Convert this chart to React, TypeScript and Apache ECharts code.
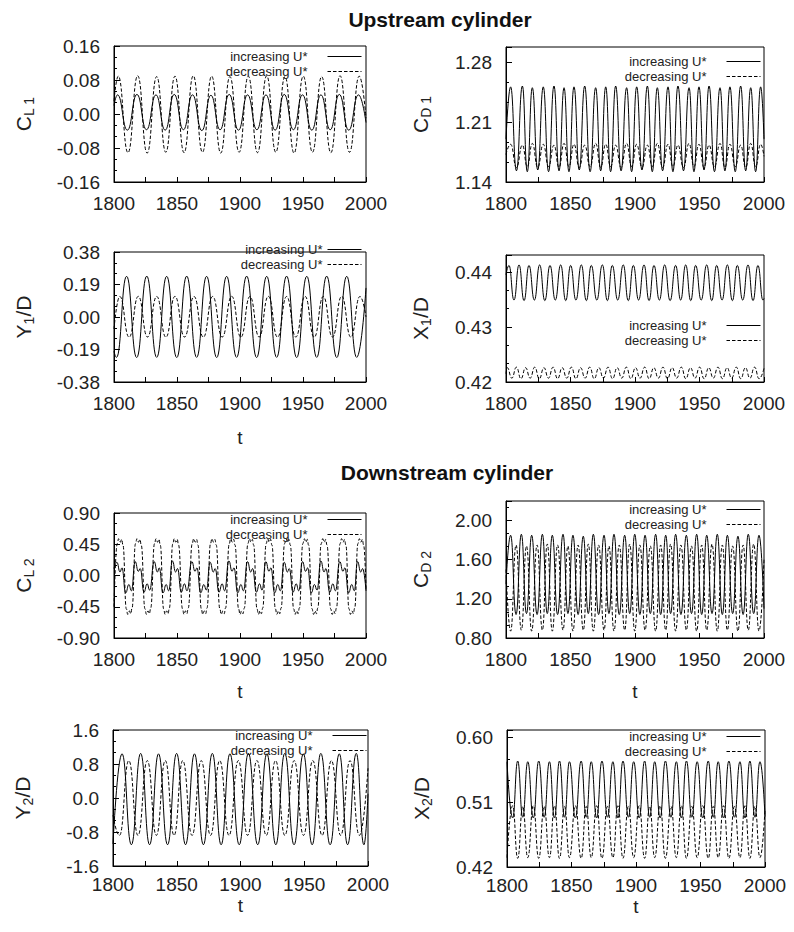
import React, { useEffect, useRef } from 'react';
import * as echarts from 'echarts';

const FONT = "'Liberation Sans', Arial, Helvetica, sans-serif";
const SERIES_NAMES = ['increasing U*', 'decreasing U*'];
const T_MIN = 1800;
const T_MAX = 2000;

// ---- Upstream: lift coefficient C_L1 ----
const cl1Inc = [
  [1800, 0.02], [1802.8, 0.045], [1810.6, -0.038], [1818.2, 0.046], [1825.8, -0.037], [1833.3, 0.045],
  [1840.6, -0.038], [1847.8, 0.046], [1855.1, -0.037], [1862.3, 0.045], [1869.7, -0.039], [1876.9, 0.044],
  [1884.2, -0.037], [1891.4, 0.046], [1898.8, -0.038], [1906.0, 0.045], [1913.4, -0.037], [1920.6, 0.045],
  [1927.9, -0.038], [1935.1, 0.046], [1942.4, -0.037], [1949.6, 0.045], [1957.0, -0.038], [1964.2, 0.045],
  [1971.6, -0.037], [1978.8, 0.046], [1986.3, -0.038], [1994.0, 0.045], [2000, -0.02],
];
const cl1Dec = [
  [1800, 0.03], [1803.4, 0.089], [1811.1, -0.091], [1818.8, 0.09], [1826.3, -0.092], [1833.9, 0.088],
  [1841.1, -0.09], [1848.4, 0.089], [1855.6, -0.091], [1862.9, 0.09], [1870.2, -0.09], [1877.5, 0.089],
  [1884.7, -0.092], [1892.0, 0.088], [1899.3, -0.09], [1906.6, 0.089], [1913.9, -0.091], [1921.2, 0.09],
  [1928.4, -0.09], [1935.7, 0.088], [1942.9, -0.092], [1950.2, 0.089], [1957.5, -0.09], [1964.8, 0.088],
  [1972.1, -0.091], [1979.4, 0.09], [1986.9, -0.09], [1994.6, 0.089], [2000, -0.01],
];

// ---- Upstream: drag coefficient C_D1 ----
const cd1Inc = [
  [1800, 1.19], [1803.6, 1.251], [1808.1, 1.153], [1812.7, 1.252], [1816.5, 1.152], [1820.4, 1.25],
  [1824.6, 1.154], [1828.9, 1.251], [1833.0, 1.152], [1837.2, 1.252], [1841.1, 1.153], [1845.0, 1.25],
  [1848.8, 1.152], [1852.7, 1.251], [1856.8, 1.154], [1861.0, 1.252], [1865.2, 1.152], [1869.5, 1.25],
  [1873.4, 1.153], [1877.3, 1.251], [1881.1, 1.152], [1885.0, 1.252], [1889.2, 1.153], [1893.5, 1.25],
  [1897.4, 1.152], [1901.3, 1.251], [1905.4, 1.154], [1909.6, 1.252], [1913.4, 1.152], [1917.3, 1.25],
  [1921.4, 1.153], [1925.6, 1.251], [1929.4, 1.152], [1933.3, 1.252], [1937.6, 1.153], [1941.9, 1.25],
  [1945.7, 1.152], [1949.6, 1.251], [1953.5, 1.154], [1957.4, 1.252], [1961.6, 1.152], [1965.9, 1.25],
  [1969.7, 1.153], [1973.6, 1.251], [1977.7, 1.152], [1981.9, 1.252], [1985.8, 1.153], [1989.7, 1.25],
  [1993.5, 1.152], [1997.4, 1.251], [2000, 1.19],
];
const cd1Dec = [
  [1800, 1.172], [1803.6, 1.184], [1808.1, 1.157], [1812.7, 1.183], [1816.5, 1.158], [1820.4, 1.185],
  [1824.6, 1.157], [1828.9, 1.184], [1833.0, 1.158], [1837.2, 1.183], [1841.1, 1.157], [1845.0, 1.185],
  [1848.8, 1.158], [1852.7, 1.184], [1856.8, 1.157], [1861.0, 1.183], [1865.2, 1.158], [1869.5, 1.185],
  [1873.4, 1.157], [1877.3, 1.184], [1881.1, 1.158], [1885.0, 1.183], [1889.2, 1.157], [1893.5, 1.185],
  [1897.4, 1.158], [1901.3, 1.184], [1905.4, 1.157], [1909.6, 1.183], [1913.4, 1.158], [1917.3, 1.185],
  [1921.4, 1.157], [1925.6, 1.184], [1929.4, 1.158], [1933.3, 1.183], [1937.6, 1.157], [1941.9, 1.185],
  [1945.7, 1.158], [1949.6, 1.184], [1953.5, 1.157], [1957.4, 1.183], [1961.6, 1.158], [1965.9, 1.185],
  [1969.7, 1.157], [1973.6, 1.184], [1977.7, 1.158], [1981.9, 1.183], [1985.8, 1.157], [1989.7, 1.185],
  [1993.5, 1.158], [1997.4, 1.184], [2000, 1.17],
];

// ---- Upstream: transverse displacement Y1/D ----
const y1Inc = [
  [1800, -0.2], [1802.0, -0.236], [1810.0, 0.238], [1818.0, -0.237], [1826.0, 0.239], [1833.9, -0.236],
  [1841.8, 0.238], [1849.8, -0.237], [1857.7, 0.239], [1865.6, -0.236], [1873.5, 0.238], [1881.5, -0.237],
  [1889.4, 0.238], [1897.3, -0.236], [1905.3, 0.239], [1913.2, -0.237], [1921.2, 0.238], [1929.1, -0.236],
  [1937.0, 0.239], [1945.0, -0.237], [1953.0, 0.238], [1960.9, -0.236], [1968.8, 0.239], [1976.8, -0.237],
  [1984.7, 0.238], [1992.6, -0.236], [2000, 0.17],
];
const y1Dec = [
  [1800, -0.07], [1804.6, 0.12], [1812.0, -0.118], [1819.3, 0.121], [1826.6, -0.117], [1833.9, 0.12],
  [1841.2, -0.118], [1848.4, 0.121], [1856.0, -0.117], [1863.5, 0.12], [1870.9, -0.118], [1878.3, 0.12],
  [1885.9, -0.117], [1893.4, 0.121], [1900.7, -0.118], [1907.9, 0.12], [1915.2, -0.117], [1922.5, 0.121],
  [1929.8, -0.118], [1937.0, 0.12], [1944.3, -0.117], [1951.6, 0.121], [1958.9, -0.118], [1966.1, 0.12],
  [1973.4, -0.117], [1980.7, 0.121], [1988.0, -0.118], [1995.2, 0.12], [2000, 0.0],
];

// ---- Upstream: streamwise displacement X1/D ----
const x1Inc = [
  [1800, 0.4395], [1802.3, 0.4412], [1806.2, 0.4349], [1810.1, 0.4413], [1814.0, 0.4348], [1817.8, 0.4412],
  [1822.0, 0.4349], [1826.1, 0.4413], [1830.1, 0.4348], [1834.1, 0.4412], [1838.2, 0.4349], [1842.4, 0.4413],
  [1846.3, 0.4348], [1850.1, 0.4412], [1854.2, 0.4349], [1858.4, 0.4413], [1862.3, 0.4348], [1866.1, 0.4412],
  [1870.4, 0.4349], [1874.7, 0.4413], [1878.6, 0.4348], [1882.4, 0.4412], [1886.6, 0.4349], [1890.9, 0.4413],
  [1894.8, 0.4348], [1898.7, 0.4412], [1902.8, 0.4349], [1907.0, 0.4413], [1910.9, 0.4348], [1914.7, 0.4412],
  [1918.9, 0.4349], [1923.0, 0.4413], [1927.2, 0.4348], [1931.5, 0.4412], [1935.4, 0.4349], [1939.3, 0.4413],
  [1943.2, 0.4348], [1947.0, 0.4412], [1951.3, 0.4349], [1955.6, 0.4413], [1959.5, 0.4348], [1963.3, 0.4412],
  [1967.5, 0.4349], [1971.6, 0.4413], [1975.5, 0.4348], [1979.3, 0.4412], [1983.5, 0.4349], [1987.6, 0.4413],
  [1991.5, 0.4348], [1995.3, 0.4412], [1999.2, 0.4349], [2000, 0.4352],
];
const x1Dec = [
  [1800, 0.4215], [1801.0, 0.4226], [1804.5, 0.4207], [1808.1, 0.4227], [1811.6, 0.4206], [1815.2, 0.4226],
  [1818.7, 0.4207], [1822.3, 0.4227], [1825.8, 0.4206], [1829.4, 0.4226], [1832.9, 0.4207], [1836.5, 0.4227],
  [1840.0, 0.4206], [1843.6, 0.4226], [1847.1, 0.4207], [1850.7, 0.4227], [1854.2, 0.4206], [1857.8, 0.4226],
  [1861.3, 0.4207], [1864.9, 0.4227], [1868.4, 0.4206], [1872.0, 0.4226], [1875.5, 0.4207], [1879.1, 0.4227],
  [1882.6, 0.4206], [1886.2, 0.4226], [1889.7, 0.4207], [1893.3, 0.4227], [1896.8, 0.4206], [1900.4, 0.4226],
  [1903.9, 0.4207], [1907.5, 0.4227], [1911.0, 0.4206], [1914.6, 0.4226], [1918.1, 0.4207], [1921.7, 0.4227],
  [1925.2, 0.4206], [1928.8, 0.4226], [1932.3, 0.4207], [1935.9, 0.4227], [1939.4, 0.4206], [1943.0, 0.4226],
  [1946.5, 0.4207], [1950.1, 0.4227], [1953.6, 0.4206], [1957.2, 0.4226], [1960.7, 0.4207], [1964.3, 0.4227],
  [1967.8, 0.4206], [1971.4, 0.4226], [1974.9, 0.4207], [1978.5, 0.4227], [1982.0, 0.4206], [1985.6, 0.4226],
  [1989.1, 0.4207], [1992.7, 0.4227], [1996.2, 0.4206], [2000, 0.4225],
];

// ---- Downstream: lift coefficient C_L2 ----
const cl2Inc = [
  [1800, 0.1],
  [1802.3, 0.19], [1804.8, 0.05], [1806.3, 0.11], [1809.3, -0.25], [1811.8, -0.13], [1813.8, -0.22],
  [1816.8, 0.2], [1819.3, 0.06], [1820.8, 0.1], [1823.8, -0.24], [1826.3, -0.12], [1828.3, -0.21],
  [1831.9, 0.2], [1834.4, 0.05], [1835.9, 0.11], [1838.9, -0.25], [1841.4, -0.13], [1843.4, -0.22],
  [1846.4, 0.21], [1848.9, 0.05], [1850.4, 0.1], [1853.4, -0.24], [1855.9, -0.12], [1857.9, -0.22],
  [1861.8, 0.2], [1864.3, 0.06], [1865.8, 0.11], [1868.8, -0.25], [1871.3, -0.13], [1873.3, -0.21],
  [1876.3, 0.19], [1878.8, 0.05], [1880.3, 0.1], [1883.3, -0.24], [1885.8, -0.12], [1887.8, -0.22],
  [1891.2, 0.21], [1893.7, 0.06], [1895.2, 0.11], [1898.2, -0.25], [1900.7, -0.13], [1902.7, -0.22],
  [1906.0, 0.2], [1908.5, 0.05], [1910.0, 0.1], [1913.0, -0.24], [1915.5, -0.12], [1917.5, -0.21],
  [1920.5, 0.2], [1923.0, 0.06], [1924.5, 0.11], [1927.5, -0.25], [1930.0, -0.13], [1932.0, -0.22],
  [1935.1, 0.19], [1937.6, 0.05], [1939.1, 0.1], [1942.1, -0.24], [1944.6, -0.12], [1946.6, -0.22],
  [1949.6, 0.2], [1952.1, 0.06], [1953.6, 0.11], [1956.6, -0.25], [1959.1, -0.13], [1961.1, -0.21],
  [1964.2, 0.21], [1966.7, 0.05], [1968.2, 0.1], [1971.2, -0.24], [1973.7, -0.12], [1975.7, -0.22],
  [1979.2, 0.2], [1981.7, 0.06], [1983.2, 0.11], [1986.2, -0.25], [1988.7, -0.13], [1990.7, -0.22],
  [1993.3, 0.2], [1995.8, 0.05], [1997.3, 0.1], [2000, -0.22],
];
const cl2Dec = [
  [1800, -0.45],
  [1802.6, 0.46], [1803.7, 0.53], [1805.0, 0.48], [1806.1, 0.52], [1807.1, 0.44],
  [1809.8, -0.48], [1810.9, -0.56], [1812.2, -0.51], [1813.3, -0.55], [1814.3, -0.47],
  [1817.1, 0.46], [1818.2, 0.53], [1819.5, 0.48], [1820.6, 0.52], [1821.6, 0.44],
  [1824.6, -0.48], [1825.7, -0.56], [1827.0, -0.51], [1828.1, -0.55], [1829.1, -0.47],
  [1832.2, 0.46], [1833.3, 0.53], [1834.6, 0.48], [1835.7, 0.52], [1836.7, 0.44],
  [1839.4, -0.48], [1840.5, -0.56], [1841.8, -0.51], [1842.9, -0.55], [1843.9, -0.47],
  [1846.7, 0.46], [1847.8, 0.53], [1849.1, 0.48], [1850.2, 0.52], [1851.2, 0.44],
  [1854.4, -0.48], [1855.5, -0.56], [1856.8, -0.51], [1857.9, -0.55], [1858.9, -0.47],
  [1862.1, 0.46], [1863.2, 0.53], [1864.5, 0.48], [1865.6, 0.52], [1866.6, 0.44],
  [1869.3, -0.48], [1870.4, -0.56], [1871.7, -0.51], [1872.8, -0.55], [1873.8, -0.47],
  [1876.6, 0.46], [1877.7, 0.53], [1879.0, 0.48], [1880.1, 0.52], [1881.1, 0.44],
  [1884.0, -0.48], [1885.1, -0.56], [1886.4, -0.51], [1887.5, -0.55], [1888.5, -0.47],
  [1891.5, 0.46], [1892.6, 0.53], [1893.9, 0.48], [1895.0, 0.52], [1896.0, 0.44],
  [1898.9, -0.48], [1900.0, -0.56], [1901.3, -0.51], [1902.4, -0.55], [1903.4, -0.47],
  [1906.3, 0.46], [1907.4, 0.53], [1908.7, 0.48], [1909.8, 0.52], [1910.8, 0.44],
  [1913.5, -0.48], [1914.6, -0.56], [1915.9, -0.51], [1917.0, -0.55], [1918.0, -0.47],
  [1920.8, 0.46], [1921.9, 0.53], [1923.2, 0.48], [1924.3, 0.52], [1925.3, 0.44],
  [1928.1, -0.48], [1929.2, -0.56], [1930.5, -0.51], [1931.6, -0.55], [1932.6, -0.47],
  [1935.4, 0.46], [1936.5, 0.53], [1937.8, 0.48], [1938.9, 0.52], [1939.9, 0.44],
  [1942.6, -0.48], [1943.7, -0.56], [1945.0, -0.51], [1946.1, -0.55], [1947.1, -0.47],
  [1949.9, 0.46], [1951.0, 0.53], [1952.3, 0.48], [1953.4, 0.52], [1954.4, 0.44],
  [1957.2, -0.48], [1958.3, -0.56], [1959.6, -0.51], [1960.7, -0.55], [1961.7, -0.47],
  [1964.5, 0.46], [1965.6, 0.53], [1966.9, 0.48], [1968.0, 0.52], [1969.0, 0.44],
  [1972.0, -0.48], [1973.1, -0.56], [1974.4, -0.51], [1975.5, -0.55], [1976.5, -0.47],
  [1979.5, 0.46], [1980.6, 0.53], [1981.9, 0.48], [1983.0, 0.52], [1984.0, 0.44],
  [1986.5, -0.48], [1987.6, -0.56], [1988.9, -0.51], [1990.0, -0.55], [1991.0, -0.47],
  [1993.6, 0.46], [1994.7, 0.53], [1996.0, 0.48], [1997.1, 0.52], [1998.1, 0.44],
  [2000, -0.2],
];

// ---- Downstream: drag coefficient C_D2 ----
const cd2Inc = [
  [1800, 1.35], [1803.6, 1.85], [1807.8, 1.04], [1811.9, 1.86], [1815.9, 1.05], [1819.9, 1.85],
  [1824.1, 1.04], [1828.2, 1.86], [1832.0, 1.05], [1835.9, 1.85], [1840.0, 1.04], [1844.2, 1.86],
  [1848.0, 1.05], [1851.9, 1.85], [1855.9, 1.04], [1859.9, 1.84], [1863.8, 1.05], [1867.7, 1.86],
  [1871.8, 1.04], [1876.0, 1.85], [1879.8, 1.05], [1883.7, 1.86], [1887.8, 1.04], [1892.0, 1.85],
  [1895.9, 1.05], [1899.8, 1.86], [1903.8, 1.04], [1907.8, 1.85], [1911.9, 1.05], [1916.0, 1.86],
  [1919.9, 1.04], [1923.8, 1.85], [1927.6, 1.05], [1931.5, 1.86], [1935.6, 1.04], [1939.8, 1.85],
  [1943.8, 1.05], [1947.8, 1.86], [1951.7, 1.04], [1955.6, 1.85], [1959.7, 1.05], [1963.8, 1.86],
  [1967.7, 1.04], [1971.6, 1.85], [1975.7, 1.05], [1979.8, 1.84], [1983.8, 1.04], [1987.8, 1.86],
  [1992.0, 1.05], [1996.1, 1.85], [2000, 1.1],
];
const cd2Dec = [
  [1800, 1.5], [1803.6, 0.87], [1807.8, 1.75], [1811.9, 0.88], [1815.9, 1.74], [1819.9, 0.87],
  [1824.1, 1.75], [1828.2, 0.88], [1832.0, 1.76], [1835.9, 0.87], [1840.0, 1.75], [1844.2, 0.88],
  [1848.0, 1.74], [1851.9, 0.87], [1855.9, 1.75], [1859.9, 0.88], [1863.8, 1.76], [1867.7, 0.87],
  [1871.8, 1.75], [1876.0, 0.88], [1879.8, 1.74], [1883.7, 0.87], [1887.8, 1.75], [1892.0, 0.88],
  [1895.9, 1.76], [1899.8, 0.87], [1903.8, 1.75], [1907.8, 0.88], [1911.9, 1.74], [1916.0, 0.87],
  [1919.9, 1.75], [1923.8, 0.88], [1927.6, 1.76], [1931.5, 0.87], [1935.6, 1.75], [1939.8, 0.88],
  [1943.8, 1.74], [1947.8, 0.87], [1951.7, 1.75], [1955.6, 0.88], [1959.7, 1.76], [1963.8, 0.87],
  [1967.7, 1.75], [1971.6, 0.88], [1975.7, 1.74], [1979.8, 0.87], [1983.8, 1.75], [1987.8, 0.88],
  [1992.0, 1.76], [1996.1, 0.87], [2000, 1.6],
];

// ---- Downstream: transverse displacement Y2/D ----
const y2Inc = [
  [1800, -1.08], [1807.1, 1.04], [1814.4, -1.1], [1821.7, 1.05], [1828.7, -1.1], [1835.7, 1.04],
  [1842.8, -1.1], [1849.9, 1.05], [1856.9, -1.1], [1863.9, 1.04], [1870.9, -1.1], [1877.9, 1.05],
  [1884.8, -1.1], [1891.7, 1.04], [1899.0, -1.1], [1906.2, 1.05], [1913.5, -1.1], [1920.7, 1.04],
  [1927.7, -1.1], [1934.7, 1.05], [1942.0, -1.1], [1949.3, 1.04], [1956.2, -1.1], [1963.0, 1.05],
  [1970.3, -1.1], [1977.5, 1.04], [1984.0, -1.1], [1990.8, 1.05], [1996.8, -1.1], [2000, 0.1],
];
const y2Dec = [
  [1800, -0.4], [1805.1, -0.88], [1812.4, 0.88], [1819.6, -0.88], [1826.9, 0.88], [1834.0, -0.88],
  [1841.0, 0.88], [1847.9, -0.88], [1854.7, 0.88], [1862.0, -0.88], [1869.2, 0.88], [1876.5, -0.88],
  [1883.7, 0.88], [1891.0, -0.88], [1898.3, 0.88], [1905.6, -0.88], [1912.9, 0.88], [1920.2, -0.88],
  [1927.5, 0.88], [1934.8, -0.88], [1942.1, 0.88], [1949.4, -0.88], [1956.7, 0.88], [1964.0, -0.88],
  [1971.3, 0.88], [1978.6, -0.88], [1985.9, 0.88], [1993.2, -0.88], [2000, 0.7],
];

// ---- Downstream: streamwise displacement X2/D ----
const x2Inc = [
  [1800, 0.566], [1804.4, 0.488], [1808.3, 0.567], [1812.2, 0.489], [1816.1, 0.566], [1820.4, 0.488],
  [1824.6, 0.567], [1828.8, 0.489], [1832.9, 0.566], [1836.8, 0.488], [1840.7, 0.567], [1844.6, 0.489],
  [1848.4, 0.566], [1853.0, 0.488], [1857.5, 0.567], [1861.4, 0.489], [1865.3, 0.566], [1869.5, 0.488],
  [1873.6, 0.567], [1877.9, 0.489], [1882.1, 0.566], [1886.0, 0.488], [1889.9, 0.567], [1894.1, 0.489],
  [1898.2, 0.566], [1902.5, 0.488], [1906.7, 0.567], [1910.6, 0.489], [1914.5, 0.566], [1918.7, 0.488],
  [1922.8, 0.567], [1927.1, 0.489], [1931.3, 0.566], [1935.2, 0.488], [1939.1, 0.567], [1943.3, 0.489],
  [1947.4, 0.566], [1951.7, 0.488], [1956.0, 0.567], [1959.9, 0.489], [1963.7, 0.566], [1967.9, 0.488],
  [1972.0, 0.567], [1976.3, 0.489], [1980.6, 0.566], [1984.5, 0.488], [1988.3, 0.567], [1992.2, 0.489],
  [1996.1, 0.566], [2000, 0.49],
];
const x2Dec = [
  [1800, 0.433], [1804.4, 0.505], [1808.3, 0.432], [1812.2, 0.504], [1816.1, 0.433], [1820.4, 0.505],
  [1824.6, 0.432], [1828.8, 0.504], [1832.9, 0.433], [1836.8, 0.505], [1840.7, 0.432], [1844.6, 0.504],
  [1848.4, 0.433], [1853.0, 0.505], [1857.5, 0.432], [1861.4, 0.504], [1865.3, 0.433], [1869.5, 0.505],
  [1873.6, 0.432], [1877.9, 0.504], [1882.1, 0.433], [1886.0, 0.505], [1889.9, 0.432], [1894.1, 0.504],
  [1898.2, 0.433], [1902.5, 0.505], [1906.7, 0.432], [1910.6, 0.504], [1914.5, 0.433], [1918.7, 0.505],
  [1922.8, 0.432], [1927.1, 0.504], [1931.3, 0.433], [1935.2, 0.505], [1939.1, 0.432], [1943.3, 0.504],
  [1947.4, 0.433], [1951.7, 0.505], [1956.0, 0.432], [1959.9, 0.504], [1963.7, 0.433], [1967.9, 0.505],
  [1972.0, 0.432], [1976.3, 0.504], [1980.6, 0.433], [1984.5, 0.505], [1988.3, 0.432], [1992.2, 0.504],
  [1996.1, 0.433], [2000, 0.5],
];

const TITLES = [
  { text: 'Upstream cylinder', x: 440, y: 9 },
  { text: 'Downstream cylinder', x: 447, y: 462 },
];

type Panel = {
  grid: { left: number; top: number; width: number; height: number };
  yMin: number; yMax: number; yInt: number; dec: number;
  name: string; nameGap: number;
  inc: number[][]; decr: number[][];
  legend: { right: number; top: number; pad: number };
  tGap: number | null; xMargin: number;
};

const PANELS: Panel[] = [
  { grid: { left: 114, top: 46, width: 252, height: 136 }, yMin: -0.16, yMax: 0.16, yInt: 0.08, dec: 2,
    name: '{m|C}{s|L 1}', nameGap: 78, inc: cl1Inc, decr: cl1Dec,
    legend: { right: 432, top: 49, pad: 15 }, tGap: null, xMargin: 12 },
  { grid: { left: 506, top: 47, width: 258, height: 135 }, yMin: 1.14, yMax: 1.2975, yInt: 0.07, dec: 2,
    name: '{m|C}{s|D 1}', nameGap: 73, inc: cd1Inc, decr: cd1Dec,
    legend: { right: 33, top: 54, pad: 15 }, tGap: null, xMargin: 12 },
  { grid: { left: 114, top: 252, width: 252, height: 130 }, yMin: -0.38, yMax: 0.38, yInt: 0.19, dec: 2,
    name: '{m|Y}{s|1}{m|/D}', nameGap: 78, inc: y1Inc, decr: y1Dec,
    legend: { right: 432, top: 242, pad: 0 }, tGap: 46, xMargin: 12 },
  { grid: { left: 506, top: 255, width: 258, height: 127 }, yMin: 0.42, yMax: 0.4431, yInt: 0.01, dec: 2,
    name: '{m|X}{s|1}{m|/D}', nameGap: 73, inc: x1Inc, decr: x1Dec,
    legend: { right: 33, top: 318, pad: 15 }, tGap: null, xMargin: 12 },
  { grid: { left: 114, top: 513, width: 252, height: 125 }, yMin: -0.9, yMax: 0.9, yInt: 0.45, dec: 2,
    name: '{m|C}{s|L 2}', nameGap: 78, inc: cl2Inc, decr: cl2Dec,
    legend: { right: 432, top: 512, pad: 15 }, tGap: 44, xMargin: 12 },
  { grid: { left: 506, top: 501, width: 258, height: 137 }, yMin: 0.8, yMax: 2.2, yInt: 0.4, dec: 2,
    name: '{m|C}{s|D 2}', nameGap: 73, inc: cd2Inc, decr: cd2Dec,
    legend: { right: 33, top: 502, pad: 15 }, tGap: 44, xMargin: 12 },
  { grid: { left: 113, top: 730, width: 255, height: 136 }, yMin: -1.6, yMax: 1.6, yInt: 0.8, dec: 1,
    name: '{m|Y}{s|2}{m|/D}', nameGap: 78, inc: y2Inc, decr: y2Dec,
    legend: { right: 427, top: 728, pad: 15 }, tGap: 30, xMargin: 9 },
  { grid: { left: 507, top: 730, width: 258, height: 137 }, yMin: 0.42, yMax: 0.61, yInt: 0.09, dec: 2,
    name: '{m|X}{s|2}{m|/D}', nameGap: 73, inc: x2Inc, decr: x2Dec,
    legend: { right: 33, top: 729, pad: 15 }, tGap: 30, xMargin: 9 },
];

function buildOption() {
  const grid: any[] = [];
  const xAxis: any[] = [];
  const yAxis: any[] = [];
  const series: any[] = [];
  const legend: any[] = [];
  PANELS.forEach((p, i) => {
    grid.push({ ...p.grid, show: true, borderColor: '#000', borderWidth: 1, containLabel: false });
    xAxis.push({
      type: 'value', gridIndex: i, min: T_MIN, max: T_MAX, interval: 25,
      axisLine: { show: true, onZero: false, lineStyle: { color: '#000', width: 1 } },
      axisTick: { show: true, inside: true, length: 5, lineStyle: { color: '#000' } },
      splitLine: { show: false },
      axisLabel: {
        fontSize: 19, color: '#222', fontFamily: FONT, margin: p.xMargin,
        formatter: (v: number) => (Math.round(v) % 50 === 0 ? String(Math.round(v)) : ''),
      },
      name: p.tGap !== null ? 't' : '',
      nameLocation: 'middle', nameGap: p.tGap ?? 0,
      nameTextStyle: { fontSize: 19, color: '#222', fontFamily: FONT },
    });
    yAxis.push({
      type: 'value', gridIndex: i, min: p.yMin, max: p.yMax, interval: p.yInt,
      axisLine: { show: true, onZero: false, lineStyle: { color: '#000', width: 1 } },
      axisTick: { show: true, inside: true, length: 6, lineStyle: { color: '#000' } },
      minorTick: { show: true, splitNumber: 3, length: 3, lineStyle: { color: '#000' } },
      splitLine: { show: false },
      axisLabel: {
        fontSize: 19, color: '#222', fontFamily: FONT, margin: 14,
        formatter: (v: number) => {
          const k = (v - p.yMin) / p.yInt;
          if (Math.abs(k - Math.round(k)) > 1e-6) return '';
          const val = Math.abs(v) < 1e-9 ? 0 : v;
          return val.toFixed(p.dec);
        },
      },
      name: p.name, nameLocation: 'middle', nameGap: p.nameGap, nameRotate: 90,
      nameTextStyle: {
        fontFamily: FONT, color: '#222', fontSize: 21,
        rich: {
          m: { fontSize: 21, fontFamily: FONT, color: '#222', lineHeight: 26 },
          s: { fontSize: 14, fontFamily: FONT, color: '#222', verticalAlign: 'bottom', lineHeight: 26 },
        },
      },
    });
    series.push({
      type: 'line', name: SERIES_NAMES[0], xAxisIndex: i, yAxisIndex: i, data: p.inc,
      symbol: 'none', smooth: 0.5, smoothMonotone: 'x', silent: true,
      lineStyle: { color: '#000', width: 1, type: 'solid' }, itemStyle: { color: '#000' },
    });
    series.push({
      type: 'line', name: SERIES_NAMES[1], xAxisIndex: i, yAxisIndex: i, data: p.decr,
      symbol: 'none', smooth: 0.5, smoothMonotone: 'x', silent: true,
      lineStyle: { color: '#000', width: 1, type: [3.5, 2] }, itemStyle: { color: '#000' },
    });
    legend.push({
      data: SERIES_NAMES, orient: 'vertical', right: p.legend.right, top: p.legend.top,
      align: 'right', itemWidth: 34, itemHeight: 10, itemGap: 0, padding: 0,
      selectedMode: false,
      itemStyle: { opacity: 0 },
      lineStyle: { width: 1 },
      textStyle: { fontSize: 13, fontFamily: FONT, color: '#222', lineHeight: 15, padding: [0, p.legend.pad, 0, 0] },
    });
  });
  return {
    animation: false,
    backgroundColor: '#fff',
    title: TITLES.map((t) => ({
      text: t.text, left: t.x, top: t.y, textAlign: 'center', padding: 0,
      textStyle: { fontSize: 21, fontWeight: 'bold', fontFamily: FONT, color: '#111' },
    })),
    grid, xAxis, yAxis, series, legend,
  };
}

export default function App() {
  const ref = useRef<HTMLDivElement>(null);
  useEffect(() => {
    if (!ref.current) return;
    const chart = echarts.init(ref.current, null, { renderer: 'svg' });
    chart.setOption(buildOption() as any);
    return () => chart.dispose();
  }, []);
  return (
    <div
      ref={ref}
      style={{ position: 'absolute', left: 0, top: 0, width: 794, height: 932, background: '#fff' }}
    />
  );
}
